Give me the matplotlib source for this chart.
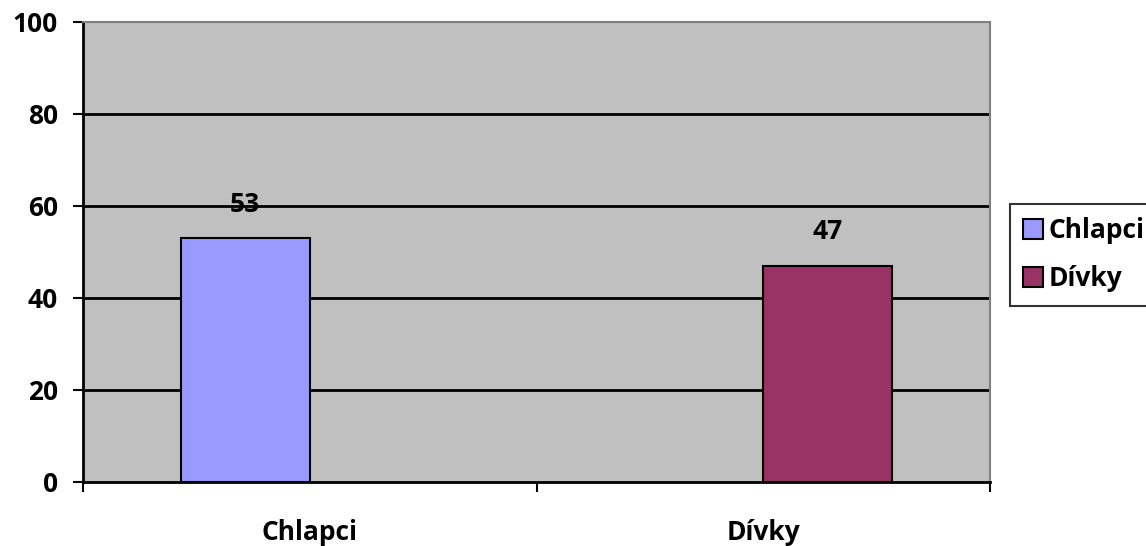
import numpy as np
import matplotlib.pyplot as plt

plt.rcParams['font.family'] = ['Open Sans', 'DejaVu Sans']
plt.rcParams['font.weight'] = 'bold'

categories = ['Chlapci', 'Dívky']
series_names = ['Chlapci', 'Dívky']
values = [53, 47]
colors = ['#9999FF', '#993366']
yticks = [0, 20, 40, 60, 80, 100]

W, H = 1146, 546
fs = 19

fig = plt.figure(figsize=(W / 100, H / 100), dpi=100)
ax = fig.add_axes([83 / W, 1 - 482 / H, 907 / W, 460 / H])
ax.set_facecolor('#C0C0C0')

width = 0.285
x = np.arange(len(categories))
# each series only has a value in its own category
for i, name in enumerate(series_names):
    offset = -width if i == 0 else 0
    ax.bar(x[i] + offset, values[i], width=width, align='edge',
           color=colors[i], edgecolor='black', linewidth=1.5,
           label=name, zorder=3)
    ax.text(x[i] + offset + width / 2, values[i] + 7.4, str(values[i]),
            ha='center', va='center', fontsize=fs, fontweight='bold')

ax.set_xlim(-0.5, 1.5)
ax.set_ylim(0, 100)
ax.set_yticks(yticks)
ax.set_yticklabels([str(v) for v in yticks], fontsize=fs, fontweight='bold')
ax.set_xticks([-0.5, 0.5, 1.5])
ax.set_xticklabels([])
ax.set_xticks(x, minor=True)
ax.set_xticklabels(categories, minor=True, fontsize=fs, fontweight='bold')
ax.tick_params(axis='x', which='minor', length=0, pad=27)
ax.tick_params(axis='x', which='major', direction='out', length=7, width=1.5)
ax.tick_params(axis='y', direction='out', length=7, width=1.5, pad=11)

for v in yticks[1:-1]:
    ax.axhline(v, color='black', linewidth=2, zorder=2)

for side in ['left', 'bottom']:
    ax.spines[side].set_color('black')
    ax.spines[side].set_linewidth(2)
for side in ['top', 'right']:
    ax.spines[side].set_color('#808080')
    ax.spines[side].set_linewidth(1.5)

leg = fig.legend(loc='upper left', bbox_to_anchor=(1010 / W, 1 - 204 / H),
                 bbox_transform=fig.transFigure,
                 frameon=True, fancybox=False, edgecolor='black',
                 prop={'size': fs, 'weight': 'bold'},
                 handlelength=0.76, handleheight=0.76, handletextpad=0.2,
                 borderpad=0.5, labelspacing=0.8, borderaxespad=0)
leg.get_frame().set_linewidth(1.5)
for h in leg.legend_handles:
    h.set_edgecolor('black')
    h.set_linewidth(1.5)

fig.savefig('out.png', dpi=100)
